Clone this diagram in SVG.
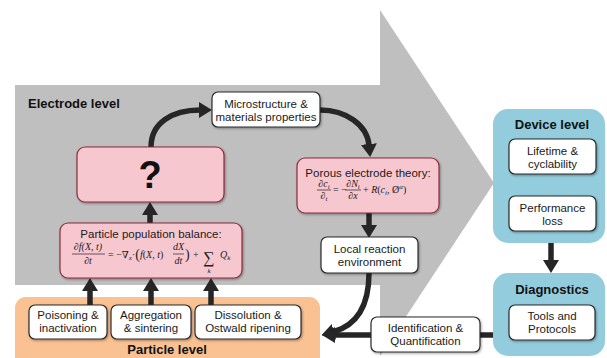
<svg xmlns="http://www.w3.org/2000/svg" width="607" height="358" viewBox="0 0 607 358">
<defs>
<style>
.t{font-family:"Liberation Sans",Arial,sans-serif;font-size:11.5px;fill:#1a1a1a;text-anchor:middle}
.b{font-family:"Liberation Sans",Arial,sans-serif;font-size:13px;font-weight:bold;fill:#111}
.m{font-family:"Liberation Serif","DejaVu Serif",serif;font-style:italic;font-size:10px;fill:#222}
.mn{font-family:"Liberation Serif","DejaVu Serif",serif;font-size:10px;fill:#222}
.s{font-size:7px}
.wb{fill:#fff;stroke:#2b2b2b;stroke-width:1.2;filter:url(#sh)}
.pb{fill:#f7c7cf;stroke:#8c2b3e;stroke-width:1.2;filter:url(#sh)}
.c{fill:none;stroke:#262626;stroke-width:5.5}
.fl{stroke:#222;stroke-width:0.7}
</style>
<filter id="sh" x="-10%" y="-10%" width="130%" height="140%">
<feDropShadow dx="1" dy="1.2" stdDeviation="0.8" flood-color="#000" flood-opacity="0.35"/>
</filter>
<marker id="ah" markerUnits="userSpaceOnUse" markerWidth="13" markerHeight="16" viewBox="0 0 13 16" refX="1" refY="8" orient="auto">
<path d="M0,0 L13,8 L0,16 z" fill="#262626"/>
</marker>
</defs>

<!-- background shapes -->
<path id="bigarrow" d="M15,85 L380,85 L380,10 L494,183 L380,356 L380,285 L15,285 z" fill="#bfbfbf"/>
<rect id="particle-level-bg" x="15" y="297" width="305" height="75" rx="11" fill="#fac192"/>
<rect id="device-level-bg" x="493" y="109" width="112" height="134" rx="15" fill="#93cddd"/>
<rect id="diagnostics-bg" x="493" y="273" width="112" height="83" rx="15" fill="#93cddd"/>

<text class="b" x="28" y="108">Electrode level</text>
<text class="b" x="552" y="129" text-anchor="middle">Device level</text>
<text class="b" x="552" y="294" text-anchor="middle">Diagnostics</text>
<text class="b" x="167" y="354" text-anchor="middle">Particle level</text>

<!-- connectors -->
<g id="connectors">
<path class="c" d="M151,147 C151,123 172,110 200,110" marker-end="url(#ah)"/>
<path class="c" d="M320,110 C346,110 367,125 369,145" marker-end="url(#ah)"/>
<path class="c" d="M369,213 L369,226" marker-end="url(#ah)"/>
<path class="c" d="M369,273 C369,305 358,325 333,332" marker-end="url(#ah)"/>
<path class="c" d="M493,335 L480,335"/>
<path class="c" d="M371,335 L334,335" marker-end="url(#ah)"/>
<path class="c" d="M551,243 L551,261" marker-end="url(#ah)"/>
<path class="c" d="M90,305 L90,290" marker-end="url(#ah)"/>
<path class="c" d="M151,305 L151,290" marker-end="url(#ah)"/>
<path class="c" d="M211,305 L211,290" marker-end="url(#ah)"/>
<path class="c" d="M150,223 L150,214" marker-end="url(#ah)"/>
</g>

<!-- nodes -->
<g id="microstructure">
<rect class="wb" x="212" y="92" width="108" height="35" rx="6"/>
<text class="t" x="266" y="107.5">Microstructure &amp;</text>
<text class="t" x="266" y="120.5">materials properties</text>
</g>

<g id="question">
<rect class="pb" x="77" y="147" width="147" height="55" rx="8"/>
<text x="150" y="188" text-anchor="middle" style="font-family:'Liberation Sans',Arial,sans-serif;font-size:38px;font-weight:bold;fill:#111">?</text>
</g>

<g id="porous">
<rect class="pb" x="297" y="158" width="142" height="55" rx="8"/>
<text class="t" x="368" y="176.5">Porous electrode theory:</text>
<text class="m" x="324" y="187" text-anchor="middle">∂c<tspan class="s" dy="2">i</tspan></text>
<line class="fl" x1="317" y1="190" x2="331" y2="190"/>
<text class="m" x="324" y="199" text-anchor="middle">∂<tspan class="s" dy="2">t</tspan></text>
<text class="mn" x="333" y="193">= −</text>
<text class="m" x="353" y="187" text-anchor="middle">∂N<tspan class="s" dy="2">i</tspan></text>
<line class="fl" x1="345" y1="190" x2="361" y2="190"/>
<text class="m" x="353" y="199" text-anchor="middle">∂x</text>
<text class="mn" x="363" y="193">+ <tspan class="m">R</tspan>(<tspan class="m">c<tspan class="s" dy="2">i</tspan></tspan><tspan dy="-2">, Ø</tspan><tspan class="m" style="font-size:7px" dy="-4">α</tspan><tspan dy="4">)</tspan></text>
</g>

<g id="local-reaction">
<rect class="wb" x="321" y="237" width="97" height="36" rx="6"/>
<text class="t" x="369.5" y="252.5">Local reaction</text>
<text class="t" x="369.5" y="265.5">environment</text>
</g>

<g id="ppb">
<rect class="pb" x="60" y="223" width="182" height="55" rx="8"/>
<text class="t" x="151" y="237.5">Particle population balance:</text>
<text class="m" x="88" y="250" text-anchor="middle">∂f(X, t)</text>
<line class="fl" x1="72" y1="254" x2="105" y2="254"/>
<text class="m" x="88" y="264" text-anchor="middle">∂t</text>
<text class="mn" x="108" y="258">= −∇<tspan class="m" style="font-size:7px" dy="2">x</tspan><tspan dy="-2">·</tspan><tspan style="font-size:14px" dy="1">(</tspan><tspan class="m" dy="-1">f</tspan>(<tspan class="m">X</tspan>, <tspan class="m">t</tspan>)</text>
<text class="m" x="178.5" y="250" text-anchor="middle">dX</text>
<line class="fl" x1="173" y1="254" x2="184" y2="254"/>
<text class="m" x="178.5" y="264" text-anchor="middle">dt</text>
<text class="mn" x="185" y="259" style="font-size:14px">)</text>
<text class="mn" x="193" y="258">+</text>
<text class="mn" x="209" y="263" style="font-size:16px" text-anchor="middle">∑</text>
<text class="m" x="209" y="273" style="font-size:7px" text-anchor="middle">k</text>
<text class="m" x="220" y="258">Q<tspan class="s" dy="2">k</tspan></text>
</g>

<g id="poisoning">
<rect class="wb" x="29" y="305" width="78" height="34" rx="6"/>
<text class="t" x="68" y="319">Poisoning &amp;</text>
<text class="t" x="68" y="332">inactivation</text>
</g>
<g id="aggregation">
<rect class="wb" x="111" y="305" width="80" height="34" rx="6"/>
<text class="t" x="151" y="319">Aggregation</text>
<text class="t" x="151" y="332">&amp; sintering</text>
</g>
<g id="dissolution">
<rect class="wb" x="195" y="305" width="106" height="34" rx="6"/>
<text class="t" x="248" y="319">Dissolution &amp;</text>
<text class="t" x="248" y="332">Ostwald ripening</text>
</g>

<g id="identification">
<rect class="wb" x="371" y="317" width="109" height="35" rx="6"/>
<text class="t" x="425.5" y="331.5">Identification &amp;</text>
<text class="t" x="425.5" y="344.5">Quantification</text>
</g>

<g id="lifetime">
<rect class="wb" x="509" y="139" width="87" height="35" rx="6"/>
<text class="t" x="552.5" y="155">Lifetime &amp;</text>
<text class="t" x="552.5" y="168">cyclability</text>
</g>
<g id="performance">
<rect class="wb" x="509" y="196" width="87" height="35" rx="6"/>
<text class="t" x="552.5" y="212">Performance</text>
<text class="t" x="552.5" y="225">loss</text>
</g>
<g id="tools">
<rect class="wb" x="509" y="305" width="86" height="35" rx="6"/>
<text class="t" x="552" y="320">Tools and</text>
<text class="t" x="552" y="333">Protocols</text>
</g>
</svg>
